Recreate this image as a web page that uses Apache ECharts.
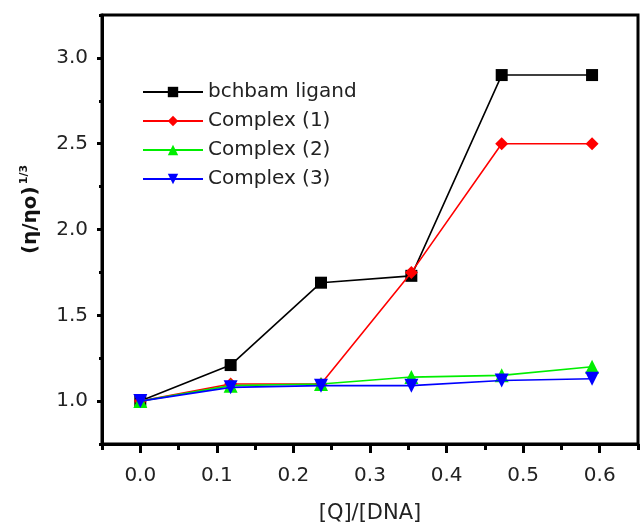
<!DOCTYPE html>
<html><head><meta charset="utf-8">
<script src="https://cdn.jsdelivr.net/npm/echarts@6/dist/echarts.min.js"></script>
<style>html,body{margin:0;padding:0;background:#fff}#c{width:641px;height:524px}</style>
</head><body><div id="c"></div>
<script>
const xValues = [0, 0.118, 0.236, 0.354, 0.472, 0.59];
const ligand = [1.0, 1.21, 1.69, 1.73, 2.90, 2.90];
const complex1 = [1.0, 1.10, 1.10, 1.75, 2.50, 2.50];
const complex2 = [1.0, 1.09, 1.10, 1.14, 1.15, 1.20];
const complex3 = [1.0, 1.08, 1.09, 1.09, 1.12, 1.13];
const seriesNames = ['bchbam ligand', 'Complex (1)', 'Complex (2)', 'Complex (3)'];
const xTickLabels = [0, 0.1, 0.2, 0.3, 0.4, 0.5, 0.6];
const yTickLabels = [1.0, 1.5, 2.0, 2.5, 3.0];

const font = 'DejaVu Sans, Verdana, sans-serif';
const pair = arr => arr.map((v, i) => [xValues[i], v]);
const colors = ['#000000', '#ff0000', '#00ee00', '#0000ff'];
const symbols = ['rect', 'diamond', 'triangle', 'triangle'];
const rot = [0, 0, 0, 180];
const sizes = [12, 13, 14, 14];
const datas = [ligand, complex1, complex2, complex3];

const chart = echarts.init(document.getElementById('c'), null, {renderer: 'canvas'});
const xBase = {type: 'value', min: -0.05, max: 0.65, gridIndex: 0, position: 'bottom'};
const yBase = {type: 'value', min: 0.75, max: 3.25, gridIndex: 0, position: 'left'};
chart.setOption({
  animation: false,
  grid: {left: 102, right: 3, top: 15, bottom: 80, show: true, borderColor: '#000', borderWidth: 3,
         outerBoundsMode: 'none', containLabel: false},
  legend: {
    orient: 'vertical', left: 137, top: 77, itemWidth: 60, itemHeight: 13, itemGap: 9,
    textStyle: {fontFamily: font, fontSize: 20, color: '#222'},
    data: seriesNames
  },
  xAxis: [
    Object.assign({}, xBase, {
      name: '[Q]/[DNA]', nameLocation: 'middle', nameGap: 59,
      nameTextStyle: {fontFamily: font, fontSize: 21, color: '#222'},
      axisLine: {show: true, onZero: false, lineStyle: {color: '#000', width: 3}},
      axisTick: {show: true, inside: false, length: 9, lineStyle: {width: 3, color: '#000'}, customValues: xTickLabels},
      axisLabel: {customValues: xTickLabels, margin: 22, fontFamily: font, fontSize: 20, color: '#222',
        formatter: v => Number(v).toFixed(1)},
      splitLine: {show: false}
    }),
    Object.assign({}, xBase, {
      interval: 0.1,
      axisLine: {show: false, onZero: false},
      axisTick: {show: true, inside: false, length: 6, lineStyle: {width: 3, color: '#000'}},
      axisLabel: {show: false},
      splitLine: {show: false}
    })
  ],
  yAxis: [
    Object.assign({}, yBase, {
      name: '{a|(η/ηo)}{b|1/3}', nameLocation: 'middle', nameGap: 60,
      nameTextStyle: {padding: [0, 0, 0, 40],
        rich: {a: {fontFamily: font, fontSize: 20, fontWeight: 'bold', color: '#111'},
               b: {fontFamily: font, fontSize: 11, fontWeight: 'bold', color: '#111', verticalAlign: 'top', padding: [0, 0, 12, 2]}}},
      axisLine: {show: true, onZero: false, lineStyle: {color: '#000', width: 3}},
      axisTick: {show: true, inside: false, length: 5, lineStyle: {width: 3, color: '#000'}, customValues: yTickLabels},
      axisLabel: {customValues: yTickLabels, margin: 14, fontFamily: font, fontSize: 20, color: '#222',
        formatter: v => Number(v).toFixed(1)},
      splitLine: {show: false}
    }),
    Object.assign({}, yBase, {
      interval: 0.5,
      axisLine: {show: false, onZero: false},
      axisTick: {show: true, inside: false, length: 3, lineStyle: {width: 3, color: '#000'}},
      axisLabel: {show: false},
      splitLine: {show: false}
    })
  ],
  series: seriesNames.map((n, i) => ({
    name: n, type: 'line', xAxisIndex: 0, yAxisIndex: 0,
    data: pair(datas[i]),
    symbol: symbols[i], symbolRotate: rot[i], symbolSize: sizes[i],
    lineStyle: {color: colors[i], width: 1.6},
    itemStyle: {color: colors[i]},
    z: 2 + i
  }))
});
</script></body></html>
